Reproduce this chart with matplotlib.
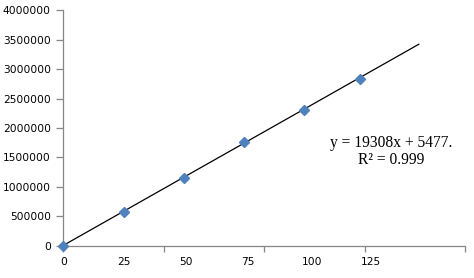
import matplotlib
matplotlib.use("Agg")
import matplotlib.pyplot as plt

# measured points
xVals = [0, 30, 60, 90, 120, 147.5]
yVals = [0, 579000, 1147000, 1760000, 2298000, 2832000]

# printed labels under the points
xLabels = ["0", "25", "50", "75", "100", "125"]
xLabelPos = [0, 30, 61, 92, 124, 153]

yTicks = [0, 500000, 1000000, 1500000, 2000000, 2500000, 3000000, 3500000, 4000000]

slope = 19308
intercept = 5477
fitEnd = 177

fig = plt.figure(figsize=(4.74, 2.78), dpi=100)
ax = fig.add_axes([0.1335, 0.116, 0.8475, 0.847])

ax.plot([0, fitEnd], [intercept, slope * fitEnd + intercept], color="black", linewidth=0.9, zorder=2)
ax.plot(xVals, yVals, linestyle="none", marker="D", markersize=5.5, color="#4F81BD",
        markeredgecolor="#4F81BD", zorder=3, clip_on=False)

ax.set_xlim(0, 200)
ax.set_ylim(0, 4000000)

gray = "#868686"
for side in ["top", "right"]:
  ax.spines[side].set_visible(False)
for side in ["left", "bottom"]:
  ax.spines[side].set_color(gray)
  ax.spines[side].set_linewidth(0.9)

ax.set_yticks(yTicks)
ax.set_yticklabels([str(v) for v in yTicks])
ax.tick_params(axis="y", length=5, width=0.9, color=gray, labelsize=7.7, pad=4)

ax.set_xticks([0, 50, 100, 150, 200])
ax.set_xticklabels([])
ax.tick_params(axis="x", length=4, width=0.9, color=gray)

for lab, pos in zip(xLabels, xLabelPos):
  ax.text(pos, -0.068, lab, transform=ax.get_xaxis_transform(), ha="center", va="center",
          fontsize=7.7)

ax.text(0.816, 0.40, "y = 19308x + 5477.\nR\u00b2 = 0.999", transform=ax.transAxes,
        ha="center", va="center", fontsize=11.2, family="Liberation Serif", linespacing=1.1)

plt.savefig("out.png", dpi=100)
